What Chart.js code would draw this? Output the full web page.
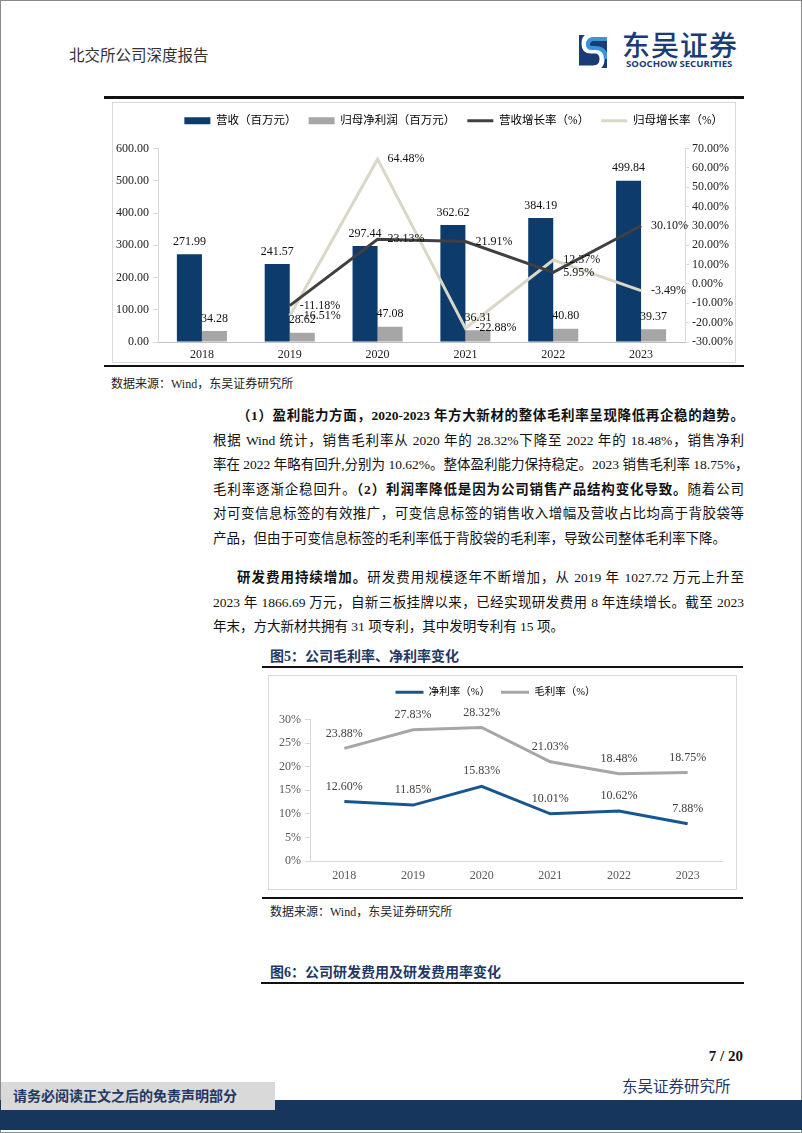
<!DOCTYPE html>
<html>
<head>
<meta charset="utf-8">
<script src="https://cdn.jsdelivr.net/npm/chart.js@4.4.1/dist/chart.umd.min.js"></script>
<style>
  body { margin: 0; background: #fff; }
  #page { position: relative; width: 802px; height: 1133px; overflow: hidden; background: #fff;
          font-family: "Liberation Serif", "Noto Sans CJK SC", serif; color: #111; }
  .abs { position: absolute; }
  .frame { left: 0; top: 0; width: 800px; height: 1131px; border: 1px solid #8a8a8a; }
  .rule { background: #111; height: 2px; }
  .src { font-size: 12px; color: #222; white-space: nowrap; }
  .figtitle { font-family: "Liberation Serif", "Noto Sans CJK SC"; font-weight: bold; font-size: 14px; color: #1f3864; white-space: nowrap; }
  .box { border: 1px solid #d9d9d9; }
  .para { left: 213px; width: 531px; font-size: 13.5px; }
  .para div { height: 24.6px; line-height: 24.6px; white-space: nowrap; text-align: justify; text-align-last: justify; }
  .para div.last { text-align-last: left; }
  .para b { font-weight: bold; }
</style>
</head>
<body>
<div id="page">
  <div class="abs frame"></div>

  <!-- header -->
  <div class="abs" style="left:69px; top:43px; font-family:'Noto Sans CJK SC'; font-size:15.5px; color:#333;">北交所公司深度报告</div>
  <svg class="abs" style="left:579px; top:35px;" width="28" height="33" viewBox="0 0 28 33">
    <rect width="28" height="33" fill="#1b3b76"/>
    <path d="M28 0 L14 0 Q5 0 5 9 Q5 16 12 16 L16 16 Q23 16 23 24 Q23 33 14 33 L0 33" stroke="#fff" stroke-width="5" fill="none"/>
    <path d="M28 4 L15 4 Q9 4 9 10 Q9 13 13 13 L16 13 Q27 13 27 24" stroke="#3895dc" stroke-width="4" fill="none"/>
  </svg>
  <div class="abs" style="left:622px; top:24px; font-family:'Noto Sans CJK SC'; font-weight:500; font-size:28px; color:#1b3b76; letter-spacing:1px;">东吴证券</div>
  <div class="abs" style="left:626px; top:57px; font-family:'Open Sans'; font-weight:700; font-size:9.6px; color:#1b3b76; white-space:nowrap;">SOOCHOW SECURITIES</div>
  <div class="abs rule" style="left:104px; top:96px; width:640px; height:3px;"></div>

  <!-- figure 4 -->
  <div class="abs box" style="left:112px; top:102px; width:622px; height:259px;">
    <div style="position:relative; width:622px; height:259px;"><canvas id="chart1"></canvas></div>
  </div>
  <div class="abs rule" style="left:104px; top:365px; width:640px;"></div>
  <div class="abs src" style="left:111px; top:374px;">数据来源：Wind，东吴证券研究所</div>

  <!-- body text -->
  <div class="abs para" style="top:404px;">
    <div style="padding-left:24px;"><b>（1）盈利能力方面，2020-2023 年方大新材的整体毛利率呈现降低再企稳的趋势。</b></div>
    <div>根据 Wind 统计，销售毛利率从 2020 年的 28.32%下降至 2022 年的 18.48%，销售净利</div>
    <div>率在 2022 年略有回升,分别为 10.62%。整体盈利能力保持稳定。2023 销售毛利率 18.75%，</div>
    <div>毛利率逐渐企稳回升。<b>（2）利润率降低是因为公司销售产品结构变化导致。</b>随着公司</div>
    <div>对可变信息标签的有效推广，可变信息标签的销售收入增幅及营收占比均高于背胶袋等</div>
    <div class="last">产品，但由于可变信息标签的毛利率低于背胶袋的毛利率，导致公司整体毛利率下降。</div>
  </div>
  <div class="abs para" style="top:566px;">
    <div style="padding-left:24px;"><b>研发费用持续增加。</b>研发费用规模逐年不断增加，从 2019 年 1027.72 万元上升至</div>
    <div>2023 年 1866.69 万元，自新三板挂牌以来，已经实现研发费用 8 年连续增长。截至 2023</div>
    <div class="last">年末，方大新材共拥有 31 项专利，其中发明专利有 15 项。</div>
  </div>

  <!-- figure 5 -->
  <div class="abs figtitle" style="left:270px; top:645px;">图5：公司毛利率、净利率变化</div>
  <div class="abs rule" style="left:262px; top:666px; width:481px;"></div>
  <div class="abs box" style="left:268px; top:675px; width:467px; height:213px;">
    <div style="position:relative; width:467px; height:213px;"><canvas id="chart2"></canvas></div>
  </div>
  <div class="abs rule" style="left:262px; top:897px; width:481px;"></div>
  <div class="abs src" style="left:270px; top:902px;">数据来源：Wind，东吴证券研究所</div>

  <!-- figure 6 title -->
  <div class="abs figtitle" style="left:270px; top:961px;">图6：公司研发费用及研发费用率变化</div>
  <div class="abs rule" style="left:261px; top:982px; width:483px;"></div>

  <!-- footer -->
  <div class="abs" style="left:690px; top:1048px; width:53px; text-align:right; font-weight:bold; font-size:15px; color:#111; white-space:nowrap;">7 / 20</div>
  <div class="abs" style="left:622px; top:1074px; font-family:'Noto Sans CJK SC'; font-size:15.5px; color:#1f3864; white-space:nowrap;">东吴证券研究所</div>
  <div class="abs" style="left:0; top:1100px; width:802px; height:30px; background:#17365d;"></div>
  <div class="abs" style="left:1px; top:1082px; width:274px; height:28px; background:#d9d9d9;"></div>
  <div class="abs" style="left:13px; top:1085px; font-family:'Noto Sans CJK SC'; font-weight:bold; font-size:14px; color:#1f3864; white-space:nowrap;">请务必阅读正文之后的免责声明部分</div>
</div>

<script>
const years = ['2018', '2019', '2020', '2021', '2022', '2023'];
const revenue = [271.99, 241.57, 297.44, 362.62, 384.19, 499.84];
const netProfit = [34.28, 28.62, 47.08, 36.31, 40.80, 39.37];
const revenueGrowth = [null, -11.18, 23.13, 21.91, 5.95, 30.10];
const profitGrowth = [null, -16.51, 64.48, -22.88, 12.37, -3.49];
const netMargin = [12.60, 11.85, 15.83, 10.01, 10.62, 7.88];
const grossMargin = [23.88, 27.83, 28.32, 21.03, 18.48, 18.75];

const serif = "'Liberation Serif', 'Noto Sans CJK SC'";
Chart.defaults.font.family = serif;
Chart.defaults.animation = false;

// draws the value labels next to bars / line points
const valueLabels = {
  id: 'valueLabels',
  afterDatasetsDraw(chart, args, opts) {
    const ctx = chart.ctx;
    ctx.save();
    ctx.font = opts.font;
    ctx.fillStyle = opts.color;
    ctx.textBaseline = 'middle';
    chart.data.datasets.forEach((ds, i) => {
      const meta = chart.getDatasetMeta(i);
      meta.data.forEach((el, j) => {
        const v = ds.data[j];
        if (v == null) return;
        const text = v.toFixed(2) + (ds.suffix || '');
        if (ds.labelAt === 'right') {
          ctx.textAlign = 'left';
          ctx.fillText(text, el.x + 10, el.y);
        } else {
          ctx.textAlign = 'center';
          ctx.fillText(text, el.x, el.y - ds.labelGap);
        }
      });
    });
    ctx.restore();
  }
};

// extra space between the legend and the plot
const legendGap = {
  id: 'legendGap',
  beforeLayout(chart, args, opts) {
    const lg = chart.legend;
    if (!lg || lg._gapPatched) return;
    const fit = lg.fit;
    lg.fit = function () { fit.call(this); this.height += opts.extra; };
    lg._gapPatched = true;
  }
};

function legendItems(chart) {
  return chart.data.datasets.map((ds, i) => ({
    text: ds.label,
    fillStyle: ds.type === 'line' ? ds.borderColor : ds.backgroundColor,
    strokeStyle: ds.type === 'line' ? ds.borderColor : ds.backgroundColor,
    lineWidth: ds.type === 'line' ? 3 : 0,
    pointStyle: ds.type === 'line' ? 'line' : 'rect',
    hidden: false,
    datasetIndex: i
  }));
}

new Chart(document.getElementById('chart1'), {
  type: 'bar',
  data: {
    labels: years,
    datasets: [
      { type: 'bar', label: '营收（百万元）', data: revenue, backgroundColor: '#0c3b6c',
        yAxisID: 'y', labelGap: 12.5, categoryPercentage: 0.57, barPercentage: 1 },
      { type: 'bar', label: '归母净利润（百万元）', data: netProfit, backgroundColor: '#a6a6a6',
        yAxisID: 'y', labelGap: 12.5, categoryPercentage: 0.57, barPercentage: 1 },
      { type: 'line', label: '营收增长率（%）', data: revenueGrowth, borderColor: '#404040',
        backgroundColor: '#404040', borderWidth: 3, pointRadius: 0, tension: 0,
        yAxisID: 'y1', order: -1, labelAt: 'right', suffix: '%' },
      { type: 'line', label: '归母增长率（%）', data: profitGrowth, borderColor: '#dad7c6',
        backgroundColor: '#dad7c6', borderWidth: 3, pointRadius: 0, tension: 0,
        yAxisID: 'y1', order: -1, labelAt: 'right', suffix: '%' }
    ]
  },
  options: {
    responsive: true,
    maintainAspectRatio: false,
    devicePixelRatio: 1,
    layout: { padding: 0 },
    plugins: {
      tooltip: { enabled: false },
      valueLabels: { font: "12px " + serif, color: '#111' },
      legendGap: { extra: 12 },
      legend: {
        position: 'top',
        align: 'end',
        labels: {
          usePointStyle: true, pointStyleWidth: 26, boxHeight: 7, padding: 12,
          font: { size: 11.5 }, color: '#333',
          generateLabels: legendItems
        }
      }
    },
    scales: {
      x: {
        grid: { display: false, drawTicks: false },
        border: { display: true, color: '#bfbfbf', width: 1 },
        ticks: { color: '#222', font: { size: 12 }, padding: 6 },
        afterFit(scale) { scale.height = 20; }
      },
      y: {
        position: 'left',
        min: 0, max: 600,
        ticks: { stepSize: 100, color: '#222', font: { size: 12 }, padding: 4,
                 callback: v => v.toFixed(2) },
        grid: { drawOnChartArea: false, drawTicks: true, tickLength: 5, color: '#d9d9d9' },
        border: { display: true, color: '#d9d9d9' },
        afterFit(scale) { scale.width = 45; }
      },
      y1: {
        position: 'right',
        min: -30, max: 70,
        ticks: { stepSize: 10, color: '#222', font: { size: 12 }, padding: 3,
                 callback: v => v.toFixed(2) + '%' },
        grid: { drawOnChartArea: false, drawTicks: true, tickLength: 4, color: '#d9d9d9' },
        border: { display: true, color: '#d9d9d9' },
        afterFit(scale) { scale.width = 50; }
      }
    }
  },
  plugins: [valueLabels, legendGap]
});

new Chart(document.getElementById('chart2'), {
  type: 'line',
  data: {
    labels: years,
    datasets: [
      { type: 'line', label: '净利率（%）', data: netMargin, borderColor: '#17568f',
        backgroundColor: '#17568f', borderWidth: 3, pointRadius: 0, tension: 0, labelGap: 15, suffix: '%' },
      { type: 'line', label: '毛利率（%）', data: grossMargin, borderColor: '#a6a6a6',
        backgroundColor: '#a6a6a6', borderWidth: 3, pointRadius: 0, tension: 0, labelGap: 15, suffix: '%' }
    ]
  },
  options: {
    responsive: true,
    maintainAspectRatio: false,
    devicePixelRatio: 1,
    layout: { padding: { right: 14 } },
    plugins: {
      tooltip: { enabled: false },
      valueLabels: { font: "12px " + serif, color: '#404040' },
      legendGap: { extra: 12 },
      legend: {
        position: 'top',
        labels: {
          usePointStyle: true, pointStyleWidth: 28, boxHeight: 3, padding: 11,
          font: { size: 10.5 }, color: '#595959',
          generateLabels: legendItems
        }
      }
    },
    scales: {
      x: {
        offset: true,
        grid: { display: false, drawTicks: false },
        border: { display: true, color: '#d9d9d9' },
        ticks: { color: '#595959', font: { size: 12 }, padding: 8 },
        afterFit(scale) { scale.height = 28; }
      },
      y: {
        min: 0, max: 30,
        ticks: { stepSize: 5, color: '#595959', font: { size: 12 }, padding: 4,
                 callback: v => v + '%' },
        grid: { drawOnChartArea: false, drawTicks: true, tickLength: 5, color: '#d9d9d9' },
        border: { display: true, color: '#d9d9d9' },
        afterFit(scale) { scale.width = 41; }
      }
    }
  },
  plugins: [valueLabels, legendGap]
});
</script>
</body>
</html>
